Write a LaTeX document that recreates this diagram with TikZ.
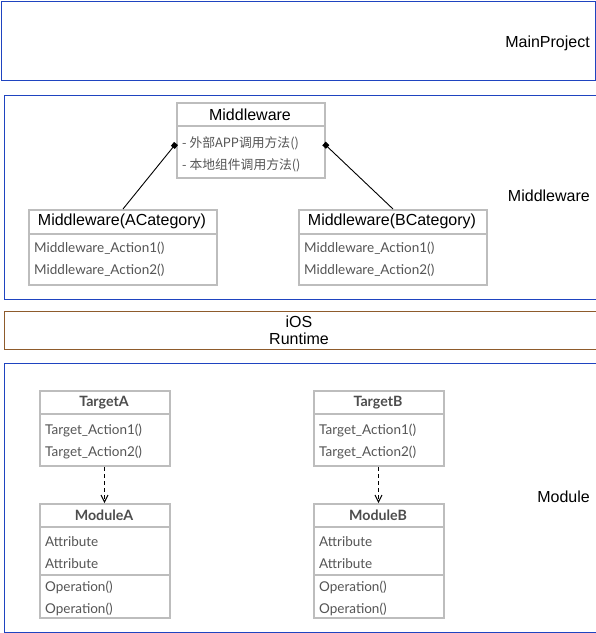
\documentclass[tikz,border=0pt]{standalone}
\usepackage{fontspec}
\setmainfont{Liberation Sans}
\newfontfamily\lato{Lato}
\newfontfamily\cjk{Noto Sans CJK SC}
\usetikzlibrary{arrows.meta}
\definecolor{outerblue}{HTML}{1F44C0}
\definecolor{brownb}{HTML}{8E5B2C}
\definecolor{umlgray}{HTML}{BDBDBD}
\definecolor{rowtext}{HTML}{555555}
\definecolor{headtext}{HTML}{4D4D4D}
\tikzset{
  outerbox/.style={draw=outerblue, line width=1.4pt, anchor=north west, inner sep=0pt},
  umlbox/.style={draw=umlgray, line width=2pt, fill=white, anchor=north west, inner sep=0pt},
  sepline/.style={draw=umlgray, line width=2pt},
  rowlabel/.style={anchor=west, inner sep=0pt, text=rowtext, font=\lato\fontsize{13.5}{16}\selectfont},
  cjkrow/.style={anchor=west, inner sep=0pt, text=rowtext, font=\cjk\fontsize{12.8}{15}\selectfont},
  headlabel/.style={inner sep=0pt, font=\fontsize{16}{19}\selectfont},
  boldhead/.style={inner sep=0pt, text=headtext, font=\lato\bfseries\fontsize{14.2}{17}\selectfont},
  sidelabel/.style={inner sep=0pt, font=\fontsize{16}{19}\selectfont},
  link/.style={line width=0.9pt, -{Square[length=5pt,width=5pt]}},
  depend/.style={line width=0.9pt, dashed, dash pattern=on 4pt off 3pt, -{Straight Barb[length=7pt,width=7pt]}}
}
\begin{document}
\begin{tikzpicture}[x=1pt,y=-1pt]
\useasboundingbox (0,0) rectangle (596,633);
% outer layers
\node[outerbox, minimum width=594, minimum height=79] (mainproj) at (1,1) {};
\node[sidelabel, anchor=east] (mainlbl) at (590,43) {MainProject};
\node[outerbox, minimum width=592, minimum height=204] (mwlayer) at (3.5,94.5) {};
\node[sidelabel, anchor=east] (mwlbl) at (590,196) {Middleware};
\node[draw=brownb, line width=1.4pt, fill=white, anchor=north west, inner sep=0pt, minimum width=592, minimum height=38] (ioslayer) at (3.5,311) {};
\node[sidelabel, align=center, font=\fontsize{16}{17}\selectfont] (ioslbl) at (299,330.5) {iOS\\Runtime};
\node[outerbox, minimum width=592, minimum height=269] (modlayer) at (3.5,362.5) {};
\node[sidelabel, anchor=east] (modlbl) at (590,497) {Module};

% Middleware class
\node[umlbox, minimum width=148, minimum height=75] (mw) at (176,102) {};
\draw[sepline] (176,126) -- (324,126);
\node[headlabel] (mwh) at (250,115) {Middleware};
\node[cjkrow] (mwr1) at (182,143) {- 外部APP调用方法()};
\node[cjkrow] (mwr2) at (182,165) {- 本地组件调用方法()};

% ACategory
\node[umlbox, minimum width=188, minimum height=75] (acat) at (28,209) {};
\draw[sepline] (28,234) -- (216,234);
\node[headlabel] (acath) at (122,221.5) {Middleware(ACategory)};
\node[rowlabel] (acr1) at (34,248.5) {Middleware\_Action1()};
\node[rowlabel] (acr2) at (34,270.5) {Middleware\_Action2()};

% BCategory
\node[umlbox, minimum width=188, minimum height=75] (bcat) at (298,209) {};
\draw[sepline] (298,234) -- (486,234);
\node[headlabel] (bcath) at (392,221.5) {Middleware(BCategory)};
\node[rowlabel] (bcr1) at (304,248.5) {Middleware\_Action1()};
\node[rowlabel] (bcr2) at (304,270.5) {Middleware\_Action2()};

\coordinate (mwl) at (176,143.5);
\coordinate (mwr) at (324,143.5);
\draw[link] (acat.north) -- (mwl);
\draw[link] (bcat.north) -- (mwr);

% TargetA
\node[umlbox, minimum width=130, minimum height=75] (ta) at (39,390) {};
\draw[sepline] (39,414) -- (169,414);
\node[boldhead] (tah) at (104,402.5) {TargetA};
\node[rowlabel] (tar1) at (45,430.5) {Target\_Action1()};
\node[rowlabel] (tar2) at (45,452.5) {Target\_Action2()};

% ModuleA
\node[umlbox, minimum width=130, minimum height=114] (ma) at (39,503) {};
\draw[sepline] (39,527) -- (169,527);
\draw[sepline] (39,575) -- (169,575);
\node[boldhead] (mah) at (104,515.5) {ModuleA};
\node[rowlabel] (mar1) at (45,541.5) {Attribute};
\node[rowlabel] (mar2) at (45,563.5) {Attribute};
\node[rowlabel] (mar3) at (45,587.5) {Operation()};
\node[rowlabel] (mar4) at (45,609.5) {Operation()};

% TargetB
\node[umlbox, minimum width=130, minimum height=75] (tb) at (313,390) {};
\draw[sepline] (313,414) -- (443,414);
\node[boldhead] (tbh) at (378,402.5) {TargetB};
\node[rowlabel] (tbr1) at (319,430.5) {Target\_Action1()};
\node[rowlabel] (tbr2) at (319,452.5) {Target\_Action2()};

% ModuleB
\node[umlbox, minimum width=130, minimum height=114] (mb) at (313,503) {};
\draw[sepline] (313,527) -- (443,527);
\draw[sepline] (313,575) -- (443,575);
\node[boldhead] (mbh) at (378,515.5) {ModuleB};
\node[rowlabel] (mbr1) at (319,541.5) {Attribute};
\node[rowlabel] (mbr2) at (319,563.5) {Attribute};
\node[rowlabel] (mbr3) at (319,587.5) {Operation()};
\node[rowlabel] (mbr4) at (319,609.5) {Operation()};

\draw[depend] ([xshift=-0.5pt]ta.south) -- ([xshift=-0.5pt]ma.north);
\draw[depend] ([xshift=-0.5pt]tb.south) -- ([xshift=-0.5pt]mb.north);
\end{tikzpicture}
\end{document}
